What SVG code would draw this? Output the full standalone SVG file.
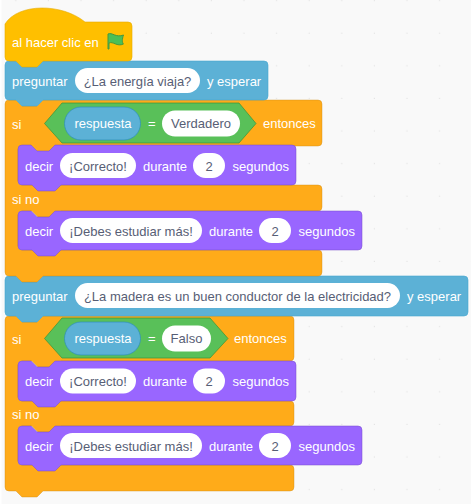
<svg xmlns="http://www.w3.org/2000/svg" width="471" height="504" viewBox="0 0 471 504">
<style>
text{font-family:"Liberation Sans",Arial,sans-serif;font-size:13px}
.w{fill:#fff}
.d{fill:#575e75;text-anchor:middle}
.pill{fill:#fff}
.hat{fill:#ffbf00;stroke:#e6ac00;stroke-opacity:.6}
.ask{fill:#5cb1d6;stroke:#47a8d1;stroke-opacity:.6}
.ctl{fill:#ffab19;stroke:#cf8b17;stroke-opacity:.4}
.say{fill:#9966ff;stroke:#774dcb;stroke-opacity:.5}
.op{fill:#59c059;stroke:#389438;stroke-opacity:.7}
.rep{fill:#5cb1d6;stroke:#2e8eb8;stroke-opacity:.7}
</style>
<defs>
<pattern id="grid" x="130" y="17" width="32.6" height="32.6" patternUnits="userSpaceOnUse"><rect x="15.6" y="15.6" width="1.2" height="1.2" fill="#e4e4e4"/></pattern>
</defs>
<rect width="471" height="504" fill="#f9f9f9"/>
<rect width="471" height="504" fill="url(#grid)"/>
<rect width="1.5" height="504" fill="#fff"/>

<g id="if-2">
<path class="ctl" d="M5 320Q5 316 9 316H16L22 322H37L43 316H290Q294 316 294 320V357Q294 361 290 361H61L55 367H38L32 361H22Q18 361 18 365V397Q18 401 22 401H290Q294 401 294 405V422Q294 426 290 426H61L55 432H38L32 426H22Q18 426 18 430V461Q18 465 22 465H290Q294 465 294 469V487Q294 491 290 491H43L37 497H22L16 491H9Q5 491 5 487Z"/>
<text class="w" x="12" y="343.500">si</text>
<path class="op" d="M62 318H210L228 338.500L210 358H62L44.500 338.500Z"/>
<rect class="rep" x="64.500" y="322" width="76" height="33" rx="16.500"/>
<text class="w" x="74.500" y="343">respuesta</text>
<text class="w" x="148" y="343">=</text>
<rect class="pill" x="162" y="325.500" width="49" height="26" rx="13"/>
<text class="d" x="186.500" y="343">Falso</text>
<text class="w" x="234" y="343">entonces</text>
<text class="w" x="12" y="419">si no</text>
</g>
<g id="say-3">
<path class="say" d="M18 365Q18 361 22 361H31L37 367H49L55 361H292Q296 361 296 365V397Q296 401 292 401H61L55 407H38L32 401H22Q18 401 18 397Z"/>
<text class="w" x="25" y="386">decir</text>
<rect class="pill" x="60" y="368.500" width="76" height="25" rx="12.500"/>
<text class="d" x="98" y="386">¡Correcto!</text>
<text class="w" x="143" y="386">durante</text>
<rect class="pill" x="193" y="368.500" width="32" height="25" rx="12.500"/>
<text class="d" x="209" y="386">2</text>
<text class="w" x="232.500" y="386">segundos</text>
</g>
<g id="say-4">
<path class="say" d="M18 430Q18 426 22 426H31L37 432H49L55 426H358Q362 426 362 430V461Q362 465 358 465H61L55 471H38L32 465H22Q18 465 18 461Z"/>
<text class="w" x="25" y="451">decir</text>
<rect class="pill" x="60" y="433" width="142" height="25" rx="12.500"/>
<text class="d" x="131" y="451">¡Debes estudiar más!</text>
<text class="w" x="209" y="451">durante</text>
<rect class="pill" x="259" y="433" width="32" height="25" rx="12.500"/>
<text class="d" x="275" y="451">2</text>
<text class="w" x="298.500" y="451">segundos</text>
</g>
<g id="ask-2">
<path class="ask" d="M5 280Q5 276 9 276H16L22 282H37L43 276H464Q468 276 468 280V312Q468 316 464 316H43L37 322H22L16 316H9Q5 316 5 312Z"/>
<text class="w" x="12" y="301">preguntar</text>
<rect class="pill" x="75" y="283" width="325" height="25" rx="12.500"/>
<text class="d" x="237.500" y="301">¿La madera es un buen conductor de la electricidad?</text>
<text class="w" x="407" y="301">y esperar</text>
</g>

<g id="if-1">
<path class="ctl" d="M5 104Q5 100 9 100H16L22 106H37L43 100H318Q322 100 322 104V142Q322 146 318 146H61L55 152H38L32 146H22Q18 146 18 150V181Q18 185 22 185H318Q322 185 322 189V207Q322 211 318 211H61L55 217H38L32 211H22Q18 211 18 215V246Q18 250 22 250H318Q322 250 322 254V272Q322 276 318 276H43L37 282H22L16 276H9Q5 276 5 272Z"/>
<text class="w" x="12" y="128.500">si</text>
<path class="op" d="M62 103H239L256 123.500L239 143H62L44.500 123.500Z"/>
<rect class="rep" x="64.500" y="107" width="76" height="33" rx="16.500"/>
<text class="w" x="74.500" y="128">respuesta</text>
<text class="w" x="148" y="128">=</text>
<rect class="pill" x="162" y="110.500" width="78" height="26" rx="13"/>
<text class="d" x="201" y="128">Verdadero</text>
<text class="w" x="263" y="128">entonces</text>
<text class="w" x="12" y="204">si no</text>
</g>
<g id="say-1">
<path class="say" d="M18 149Q18 145 22 145H31L37 151H49L55 145H292Q296 145 296 149V181Q296 185 292 185H61L55 191H38L32 185H22Q18 185 18 181Z"/>
<text class="w" x="25" y="170.500">decir</text>
<rect class="pill" x="60" y="153" width="76" height="25" rx="12.500"/>
<text class="d" x="98" y="170.500">¡Correcto!</text>
<text class="w" x="143" y="170.500">durante</text>
<rect class="pill" x="193" y="153" width="32" height="25" rx="12.500"/>
<text class="d" x="209" y="170.500">2</text>
<text class="w" x="232.500" y="170.500">segundos</text>
</g>
<g id="say-2">
<path class="say" d="M18 215Q18 211 22 211H31L37 217H49L55 211H358Q362 211 362 215V246Q362 250 358 250H61L55 256H38L32 250H22Q18 250 18 246Z"/>
<text class="w" x="25" y="236">decir</text>
<rect class="pill" x="60" y="218" width="142" height="25" rx="12.500"/>
<text class="d" x="131" y="236">¡Debes estudiar más!</text>
<text class="w" x="209" y="236">durante</text>
<rect class="pill" x="259" y="218" width="32" height="25" rx="12.500"/>
<text class="d" x="275" y="236">2</text>
<text class="w" x="298.500" y="236">segundos</text>
</g>
<g id="ask-1">
<path class="ask" d="M5 65Q5 61 9 61H16L22 67H37L43 61H264Q268 61 268 65V96Q268 100 264 100H43L37 106H22L16 100H9Q5 100 5 96Z"/>
<text class="w" x="12" y="86">preguntar</text>
<rect class="pill" x="75" y="68" width="125" height="25" rx="12.500"/>
<text class="d" x="137.500" y="86">¿La energía viaja?</text>
<text class="w" x="207" y="86">y esperar</text>
</g>
<g id="hat">
<path class="hat" d="M5 24C18 3 62 3 85 22H128Q132 22 132 26V57Q132 61 128 61H43L37 67H22L16 61H9Q5 61 5 57Z"/>
<text class="w" x="12" y="46.500">al hacer clic en</text>
<path d="M108 34C112 32 116 38 123.500 35C122 39 122 43 123.500 44C117 47 113 41 109 43V49H108Z" fill="#4cbf56" stroke="#45993d"/>
</g>
<g id="connectors"/>
</svg>
